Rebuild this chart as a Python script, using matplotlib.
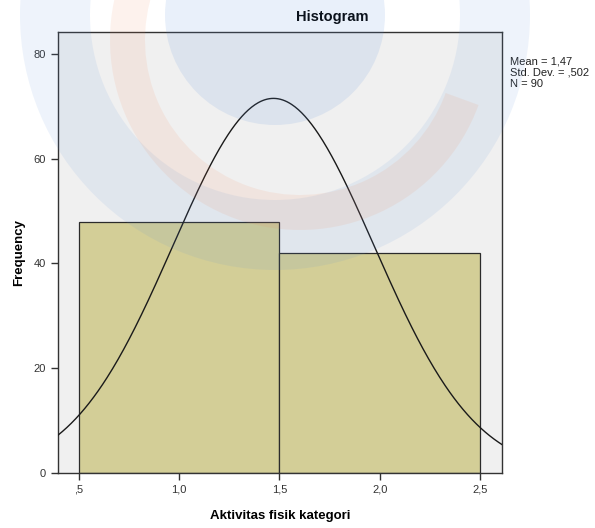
import matplotlib
matplotlib.use("Agg")
import matplotlib.pyplot as plt
import numpy as np
from matplotlib.patches import Circle, Wedge

plt.rcParams["font.family"] = ["Liberation Sans", "DejaVu Sans"]

# data
bin_edges = [0.5, 1.5, 2.5]
counts = [48, 42]
mean_val = 1.47
std_val = 0.502
n_total = 90
x_ticks = [0.5, 1.0, 1.5, 2.0, 2.5]
x_tick_labels = [",5", "1,0", "1,5", "2,0", "2,5"]
y_ticks = [0, 20, 40, 60, 80]
stats_text = "Mean = 1,47\nStd. Dev. = ,502\nN = 90"

W, H = 595, 528
fig = plt.figure(figsize=(W / 100, H / 100), dpi=100)
fig.patch.set_facecolor("white")

ax = fig.add_axes([58 / W, 1 - 473 / H, (502 - 58) / W, (473 - 32) / H])
ax.set_facecolor("#F0F0F0")

widths = np.diff(bin_edges)
ax.bar(bin_edges[:-1], counts, width=widths, align="edge",
       color="#D3CE97", edgecolor="#2b2b2b", linewidth=0.9, zorder=2)

# normal curve scaled to counts
xs = np.linspace(0.395, 2.61, 400)
bw = widths[0]
ys = n_total * bw / (std_val * np.sqrt(2 * np.pi)) * np.exp(-0.5 * ((xs - mean_val) / std_val) ** 2)
ax.plot(xs, ys, color="#1a1a1a", linewidth=1.0, zorder=3)

ax.set_xlim(0.395, 2.61)
ax.set_ylim(0, 84.2)
ax.set_xticks(x_ticks)
ax.set_xticklabels(x_tick_labels)
ax.set_yticks(y_ticks)
ax.tick_params(labelsize=8, length=5, width=1, color="#333333", labelcolor="#333333")
for s in ax.spines.values():
    s.set_color("#333333")
    s.set_linewidth(1)

ax.set_xlabel("Aktivitas fisik kategori", fontsize=9.5, fontweight="bold", labelpad=11)
ax.set_ylabel("Frequency", fontsize=9.5, fontweight="bold", labelpad=6)

fig.text(332 / W, 1 - 17 / H, "Histogram", fontsize=10.5, fontweight="bold",
         ha="center", va="center")
fig.text(510 / W, 1 - 56 / H, stats_text, fontsize=8, ha="left", va="top",
         color="#222222", linespacing=1.2)

# faint watermark shapes on top of the chart
wm = fig.add_axes([0, 0, 1, 1], zorder=10)
wm.set_xlim(0, W)
wm.set_ylim(H, 0)
wm.axis("off")
wm.patch.set_alpha(0)
wm.add_patch(Wedge((275, 15), 255, 0, 360, width=70, color="#5B8FDB", alpha=0.10, lw=0))
wm.add_patch(Circle((275, 15), 110, color="#5B8FDB", alpha=0.13, lw=0))
wm.add_patch(Wedge((300, 40), 190, 20, 200, width=35, color="#F08050", alpha=0.10, lw=0))

fig.savefig("out.png", dpi=100)
